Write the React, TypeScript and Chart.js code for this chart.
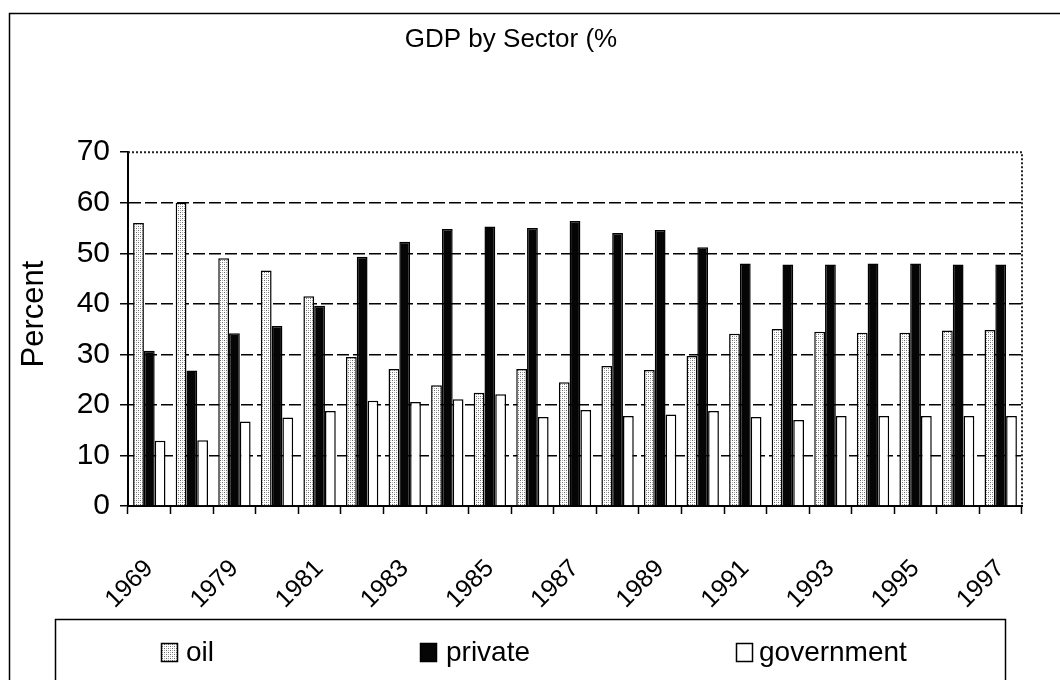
import React, { useEffect, useRef } from 'react';
import { Chart, registerables } from 'chart.js';

Chart.register(...registerables);

const categories = ['1969', '1974', '1979', '1980', '1981', '1982', '1983', '1984', '1985', '1986', '1987', '1988', '1989', '1990', '1991', '1992', '1993', '1994', '1995', '1996', '1997'];
const oilValues = [56, 60, 49, 46.6, 41.5, 29.5, 27.1, 23.9, 22.4, 27.1, 24.5, 27.7, 26.9, 29.7, 34.1, 35, 34.5, 34.3, 34.3, 34.7, 34.8];
const privateValues = [30.7, 26.8, 34.2, 35.6, 39.6, 49.3, 52.3, 54.8, 55.3, 55, 56.4, 54, 54.6, 51.2, 48, 47.8, 47.8, 48, 48, 47.8, 47.8];
const governmentValues = [12.9, 13, 16.7, 17.5, 18.8, 20.8, 20.6, 21.1, 22.1, 17.6, 19, 17.8, 18.1, 18.8, 17.6, 17, 17.8, 17.8, 17.8, 17.8, 17.8];
const seriesLabels = ['oil', 'private', 'government'];
const chartTitle = 'GDP by Sector (%';
const yAxisTitle = 'Percent';
const yMin = 0;
const yMax = 70;
const yStep = 10;

const FONT = '"Liberation Sans", Arial, sans-serif';

function makeOilPattern(): CanvasPattern | string {
  const pc = document.createElement('canvas');
  pc.width = 4;
  pc.height = 4;
  const p = pc.getContext('2d');
  if (!p) return '#ccc';
  p.fillStyle = '#ffffff';
  p.fillRect(0, 0, 4, 4);
  p.fillStyle = '#6a6a6a';
  p.fillRect(0, 0, 1, 1);
  p.fillRect(2, 2, 1, 1);
  p.fillStyle = '#b0b0b0';
  p.fillRect(2, 0, 1, 1);
  p.fillRect(0, 2, 1, 1);
  const pat = p.createPattern(pc, 'repeat');
  return pat || '#ccc';
}

const framePlugin = {
  id: 'framePlugin',
  beforeDraw(chart: any) {
    const ctx = chart.ctx;
    ctx.save();
    ctx.fillStyle = '#ffffff';
    ctx.fillRect(0, 0, chart.width, chart.height);
    // outer chart frame (right/bottom edges lie outside the picture)
    ctx.strokeStyle = '#000';
    ctx.lineWidth = 1.5;
    ctx.strokeRect(9.5, 13.5, chart.width + 40, chart.height + 40);
    ctx.restore();
  },
  afterDraw(chart: any) {
    const ctx = chart.ctx;
    const area = chart.chartArea;
    ctx.save();
    // dotted plot-area frame on top and right
    ctx.strokeStyle = '#222';
    ctx.lineWidth = 2;
    ctx.setLineDash([2, 2]);
    ctx.beginPath();
    ctx.moveTo(area.left, area.top);
    ctx.lineTo(area.right, area.top);
    ctx.lineTo(area.right, area.bottom);
    ctx.stroke();
    ctx.setLineDash([]);

    // y axis title
    ctx.fillStyle = '#000';
    ctx.font = `31px ${FONT}`;
    ctx.textAlign = 'center';
    ctx.textBaseline = 'middle';
    ctx.translate(34, 314);
    ctx.rotate(-Math.PI / 2);
    ctx.fillText(yAxisTitle, 0, 0);
    ctx.setTransform(1, 0, 0, 1, 0, 0);

    // legend box
    ctx.strokeStyle = '#000';
    ctx.lineWidth = 1.5;
    ctx.strokeRect(55.5, 619.5, 950, 100);

    const iconX = [161, 420, 736];
    const textX = [186, 446, 759];
    ctx.font = `28px ${FONT}`;
    ctx.textAlign = 'left';
    ctx.textBaseline = 'middle';
    chart.data.datasets.forEach((ds: any, i: number) => {
      ctx.fillStyle = ds.backgroundColor;
      ctx.fillRect(iconX[i], 643, 16, 18);
      ctx.strokeStyle = '#000';
      ctx.lineWidth = 1.5;
      ctx.strokeRect(iconX[i] + 0.5, 643.5, 16, 18);
      ctx.fillStyle = '#000';
      ctx.fillText(ds.label, textX[i], 653);
    });
    ctx.restore();
  },
};

export default function App() {
  const canvasRef = useRef<HTMLCanvasElement | null>(null);

  useEffect(() => {
    const canvas = canvasRef.current;
    if (!canvas) return;
    Chart.defaults.font.family = FONT;
    Chart.defaults.color = '#000';
    const oilFill = makeOilPattern();

    const chart = new Chart(canvas, {
      type: 'bar',
      data: {
        labels: categories,
        datasets: [
          { label: seriesLabels[0], data: oilValues, backgroundColor: oilFill as any, borderColor: '#000', borderWidth: 1.5 },
          { label: seriesLabels[1], data: privateValues, backgroundColor: '#050505', borderColor: '#000', borderWidth: 1.5 },
          { label: seriesLabels[2], data: governmentValues, backgroundColor: '#ffffff', borderColor: '#000', borderWidth: 1.5 },
        ],
      },
      options: {
        responsive: false,
        animation: false,
        devicePixelRatio: 1,
        layout: { padding: { left: 0, right: 38, top: 0, bottom: 61 } },
        datasets: { bar: { categoryPercentage: 0.76, barPercentage: 1.0 } },
        plugins: {
          legend: { display: false },
          tooltip: { enabled: false },
          title: {
            display: true,
            text: chartTitle,
            color: '#000',
            font: { size: 26, weight: 'normal', family: FONT },
            padding: { top: 24, bottom: 97 },
          },
        },
        scales: {
          x: {
            offset: true,
            grid: {
              offset: true,
              drawOnChartArea: false,
              drawTicks: true,
              tickLength: 8,
              tickColor: '#000',
              tickWidth: 1.5,
            },
            border: { display: true, color: '#000', width: 2 },
            ticks: {
              autoSkip: false,
              minRotation: 45,
              maxRotation: 45,
              padding: 40,
              color: '#000',
              font: { size: 25, family: FONT },
              callback: (_v: any, i: number) => (i % 2 === 0 ? categories[i] : ''),
            },
            afterFit: (scale: any) => {
              scale.height = 113;
              scale.paddingLeft = 0;
              scale.paddingRight = 0;
            },
          },
          y: {
            min: yMin,
            max: yMax,
            ticks: {
              stepSize: yStep,
              padding: 10,
              color: '#000',
              font: { size: 30, family: FONT },
            },
            grid: {
              color: (c: any) => (c.tick && c.tick.value === yMax ? 'rgba(0,0,0,0)' : '#000'),
              lineWidth: 1.5,
              drawTicks: true,
              tickLength: 8,
              tickColor: '#000',
              tickWidth: 1.5,
              tickBorderDash: [],
            },
            border: { display: true, color: '#000', width: 2, dash: [12, 4] },
            afterFit: (scale: any) => {
              scale.width = 128;
            },
          },
        },
      },
      plugins: [framePlugin],
    });

    return () => {
      chart.destroy();
    };
  }, []);

  return (
    <div style={{ position: 'absolute', left: 0, top: 0, width: 1060, height: 680, background: '#fff' }}>
      <canvas ref={canvasRef} width={1060} height={680} style={{ display: 'block' }} />
    </div>
  );
}
